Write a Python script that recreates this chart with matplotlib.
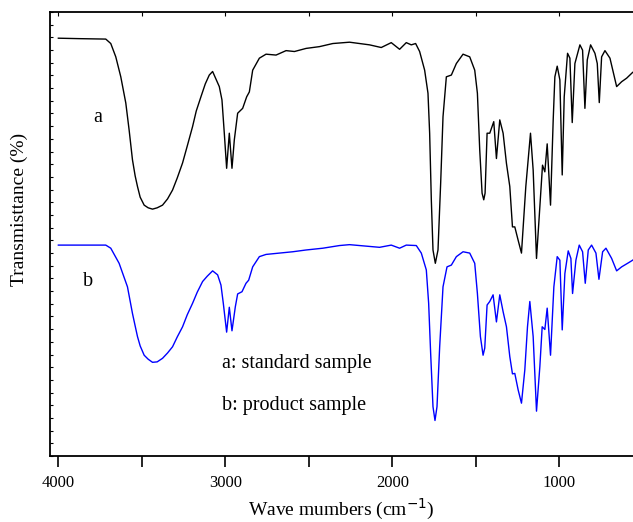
import numpy as np
import matplotlib
matplotlib.use('Agg')
import matplotlib.pyplot as plt
from matplotlib.ticker import MultipleLocator, NullFormatter

plt.rcParams['font.family'] = ['Liberation Serif', 'DejaVu Serif']

# spectrum a (standard sample): wavenumber (cm-1), transmittance (arb. %)
wn_a = [4000, 3876, 3716, 3686, 3656, 3626, 3596, 3576, 3556, 3540, 3526, 3510, 3486, 3462,
        3436, 3408, 3376, 3346, 3316, 3288, 3256, 3228, 3196, 3174, 3146, 3120, 3096, 3076,
        3036, 3020, 3006, 2992, 2976, 2960, 2946, 2926, 2896,
        2872, 2856, 2836, 2796, 2756, 2696, 2636, 2586, 2516, 2436, 2356, 2256, 2136, 2066,
        2006, 1956, 1916, 1886, 1860, 1836, 1806, 1786, 1776, 1766, 1756, 1742, 1726, 1710,
        1696, 1676, 1646, 1616, 1576, 1536, 1506, 1490, 1476, 1462, 1452, 1444, 1432, 1416,
        1392, 1376, 1356, 1336, 1316, 1296, 1280, 1266, 1246, 1226, 1200, 1172, 1156, 1136,
        1116, 1100, 1086, 1072, 1052, 1036, 1026, 1012, 996, 982, 970, 950, 936, 922,
        906, 876, 860, 846, 832, 812, 786, 772, 760, 746, 726, 696, 656, 626,
        596, 560, 546]
t_a = [94.1, 94.0, 93.9, 92.9, 89.9, 85.4, 79.5, 73.4, 66.7, 63.1, 60.7, 58.3, 56.5, 55.9,
       55.6, 55.9, 56.5, 57.9, 59.9, 62.6, 66.0, 69.8, 74.2, 77.7, 80.9, 83.8, 85.8, 86.6,
       83.2, 80.2, 72.7, 64.8, 72.7, 64.8, 71.2, 77.2, 78.3,
       80.9, 82.0, 86.9, 89.6, 90.5, 90.3, 91.3, 91.1, 91.8, 92.2, 92.9, 93.2, 92.6, 92.0,
       93.1, 91.6, 93.1, 92.6, 92.9, 91.1, 86.9, 81.7, 72.7, 57.7, 46.4, 43.4, 46.4, 61.5,
       76.4, 85.4, 85.8, 88.4, 90.5, 89.9, 86.9, 81.7, 68.9, 59.2, 57.7, 59.2, 72.7, 72.7,
       75.3, 67.0, 75.7, 72.7, 65.9, 60.7, 51.6, 51.6, 48.6, 45.7, 60.7, 72.7, 64.4, 44.5,
       56.1, 65.5, 64.0, 70.3, 56.5, 75.7, 85.4, 87.8, 84.7, 63.3, 80.9, 90.7, 89.6, 75.1,
       88.4, 92.6, 91.4, 78.3, 89.2, 92.6, 90.7, 88.4, 79.6, 89.9, 91.3, 89.6, 83.2, 84.3,
       85.1, 86.4, 86.7]

# spectrum b (product sample)
wn_b = [4000, 3716, 3686, 3636, 3586, 3556, 3540, 3526, 3510, 3486, 3462, 3436, 3408, 3376,
        3346, 3316, 3288, 3256, 3228, 3196, 3168, 3136, 3108,
        3076, 3046, 3026, 3012, 2992, 2976, 2960, 2940, 2926, 2900, 2876, 2860, 2836, 2796,
        2756, 2676, 2596, 2516, 2416, 2316, 2256, 2076, 2006, 1956, 1916, 1856, 1826, 1796,
        1782, 1770, 1756, 1744, 1732, 1716, 1696, 1672, 1646, 1616, 1576, 1536, 1506, 1490,
        1472, 1456, 1446, 1432, 1416, 1396, 1376, 1356, 1336, 1316, 1296, 1280, 1266, 1246,
        1226, 1206, 1190, 1176, 1156, 1136, 1116, 1102, 1086, 1072, 1052, 1032, 1012, 996,
        982, 966, 946, 930, 920, 900, 880, 860, 844, 826, 806, 780, 762, 740,
        720, 686, 656, 626, 586, 560, 546]
t_b = [47.5, 47.5, 46.8, 43.4, 38.1, 32.1, 29.3, 26.9, 24.8, 22.7, 21.8, 21.1, 21.2, 22.0,
       23.2, 24.6, 26.8, 29.1, 31.8, 34.4, 36.9, 39.3, 40.5,
       41.7, 40.8, 38.5, 34.4, 27.9, 33.5, 28.2, 33.6, 36.5, 37.0, 38.9, 39.6, 42.6, 44.9,
       45.4, 45.7, 46.0, 46.4, 46.8, 47.4, 47.6, 47.0, 47.5, 46.8, 47.5, 47.4, 45.7, 41.9,
       34.4, 23.1, 11.1, 8.0, 11.1, 24.6, 38.1, 42.6, 43.0, 44.9, 46.0, 45.7, 43.4, 36.6,
       26.9, 22.7, 24.3, 34.0, 34.8, 36.3, 30.2, 36.3, 32.5, 29.1, 22.4, 18.5, 18.6, 14.9,
       11.9, 19.4, 29.1, 34.8, 26.9, 10.1, 20.1, 29.1, 28.5, 33.3, 22.7, 38.1, 44.9, 44.1,
       28.4, 41.1, 46.2, 44.5, 36.6, 44.1, 47.5, 46.0, 38.9, 46.4, 47.5, 45.7, 39.8, 46.0,
       46.8, 44.5, 41.7, 42.6, 43.5, 44.1, 44.5]

fig = plt.figure(figsize=(6.33, 5.22), dpi=100)
ax = fig.add_axes([50 / 633, 66 / 522, 583 / 633, 444 / 522])

ax.plot(wn_a, t_a, color='black', lw=1.0)
ax.plot(wn_b, t_b, color='blue', lw=1.0)

ax.set_xlim(4050, 558)
ax.set_ylim(0, 100)

ax.xaxis.set_major_locator(MultipleLocator(1000))
ax.xaxis.set_minor_locator(MultipleLocator(500))
ax.tick_params(axis='x', which='both', direction='out', length=8, width=1.2,
               labelsize=12, pad=6, top=False)
ax.tick_params(axis='y', which='both', direction='in', length=2, width=0.8, left=True)
ax.yaxis.set_major_locator(MultipleLocator(100 / 35))
ax.yaxis.set_major_formatter(NullFormatter())

for s in ['left', 'bottom', 'top']:
    ax.spines[s].set_linewidth(1.3)
ax.spines['right'].set_visible(False)

# small inward ticks on the top spine
secax = ax.secondary_xaxis('top')
secax.xaxis.set_major_locator(MultipleLocator(500))
secax.tick_params(direction='in', length=3, width=0.8, labeltop=False)
secax.spines['top'].set_visible(False)

ax.set_xlabel('Wave mumbers (cm$^{-1}$)', fontsize=14, labelpad=4)
ax.set_ylabel('Transmisttance (%)', fontsize=14, labelpad=10)
ax.yaxis.set_label_coords(-0.037, 0.555)

ax.text(3766, 76.3, 'a', fontsize=14.5, ha='center', va='center')
ax.text(3820, 39.3, 'b', fontsize=14.5, ha='center', va='center')
ax.text(3018, 20.9, 'a: standard sample', fontsize=14.5, ha='left', va='center')
ax.text(3018, 11.3, 'b: product sample', fontsize=14.5, ha='left', va='center')

fig.savefig('out.png', dpi=100)
